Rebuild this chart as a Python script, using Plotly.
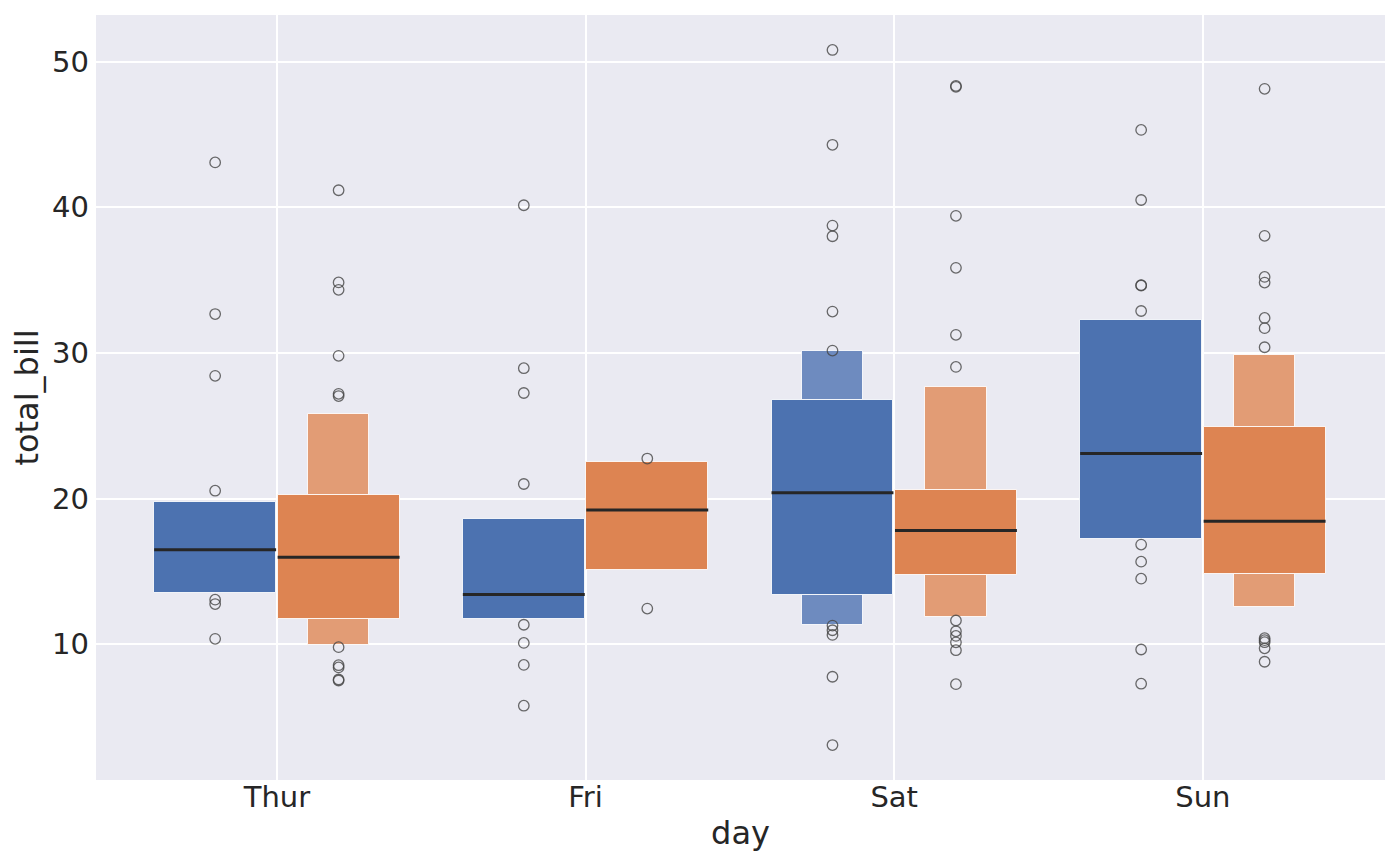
import plotly.graph_objects as go

# ---- data ----
days = ["Thur", "Fri", "Sat", "Sun"]

male_q1 = [13.55, 11.70, 13.41, 17.21]
male_q3 = [19.78, 18.60, 26.75, 32.29]
male_median = [16.48, 13.42, 20.40, 23.10]
male_outer_low = [None, None, 11.34, None]
male_outer_high = [None, None, 30.10, None]

female_q1 = [11.74, 15.11, 14.75, 14.80]
female_q3 = [20.24, 22.51, 20.62, 24.94]
female_median = [15.97, 19.21, 17.81, 18.44]
female_outer_low = [9.98, None, 11.85, 12.57]
female_outer_high = [25.84, None, 27.67, 29.86]

male_outliers = [
    [43.08, 32.67, 28.43, 20.54, 13.06, 12.76, 10.37],
    [40.14, 28.95, 27.25, 21.00, 11.34, 10.09, 8.58, 5.78],
    [50.80, 44.29, 38.74, 38.01, 32.84, 30.16, 11.28, 10.96, 10.64, 7.77, 3.08],
    [45.31, 40.50, 34.63, 34.65, 32.88, 16.84, 15.67, 14.50, 9.64, 7.29],
]
female_outliers = [
    [41.17, 34.84, 34.33, 29.80, 27.19, 27.04, 9.80, 8.56, 8.41, 7.58, 7.51],
    [22.75, 12.45],
    [48.33, 48.27, 39.41, 35.84, 31.24, 29.04, 11.63, 10.89, 10.57, 10.13, 9.59, 7.26],
    [48.13, 38.04, 35.22, 34.83, 32.40, 31.70, 30.39, 10.42, 10.28, 10.14, 9.72, 8.80],
]

# ---- styles ----
BLUE, BLUE_L = "#4c72b0", "#6e8bbf"
ORANGE, ORANGE_L = "#dd8452", "#e29c75"
BOX_W = 0.395
INNER_W = 0.2
OFFSET = 0.2

fig = go.Figure()


def add_group(q1, q3, med, olo, ohi, outs, dx, col, col_l, name):
    xs, bases, heights, widths, colors = [], [], [], [], []
    for i in range(len(days)):
        c = i + dx
        if olo[i] is not None:
            xs.append(c); bases.append(olo[i]); heights.append(q1[i] - olo[i])
            widths.append(INNER_W); colors.append(col_l)
        if ohi[i] is not None:
            xs.append(c); bases.append(q3[i]); heights.append(ohi[i] - q3[i])
            widths.append(INNER_W); colors.append(col_l)
        xs.append(c); bases.append(q1[i]); heights.append(q3[i] - q1[i])
        widths.append(BOX_W); colors.append(col)
    fig.add_trace(go.Bar(
        x=xs, y=heights, base=bases, width=widths,
        marker=dict(color=colors, line=dict(color="rgba(255,255,255,0.85)", width=1)),
        name=name, showlegend=False, hoverinfo="skip",
    ))
    mx, my = [], []
    for i in range(len(days)):
        c = i + dx
        mx += [c - BOX_W / 2, c + BOX_W / 2, None]
        my += [med[i], med[i], None]
    fig.add_trace(go.Scatter(x=mx, y=my, mode="lines",
                             line=dict(color="#262626", width=3),
                             showlegend=False, hoverinfo="skip"))
    ox, oy = [], []
    for i in range(len(days)):
        for v in outs[i]:
            ox.append(i + dx); oy.append(v)
    fig.add_trace(go.Scatter(
        x=ox, y=oy, mode="markers",
        marker=dict(symbol="circle", size=10.5, color="rgba(0,0,0,0)",
                    line=dict(color="rgba(70,70,70,0.8)", width=1.3)),
        showlegend=False, hoverinfo="skip"))


add_group(male_q1, male_q3, male_median, male_outer_low, male_outer_high,
          male_outliers, -OFFSET, BLUE, BLUE_L, "Male")
add_group(female_q1, female_q3, female_median, female_outer_low, female_outer_high,
          female_outliers, OFFSET, ORANGE, ORANGE_L, "Female")

# page body has an 8px margin; compensate so the plot area lands at 96..1385 x 15..780
fig.update_layout(
    width=1400, height=866,
    margin=dict(l=88, r=23, t=7, b=94),
    paper_bgcolor="white", plot_bgcolor="#eaeaf2",
    barmode="overlay", bargap=0,
    font=dict(family="DejaVu Sans", color="#262626", size=29),
    showlegend=False,
)
fig.update_xaxes(
    range=[-0.586, 3.59], tickmode="array", tickvals=list(range(len(days))),
    ticktext=days, showgrid=True, gridcolor="white", gridwidth=1.8,
    zeroline=False, showline=False, ticks="", ticklabelstandoff=-3,
    tickfont=dict(size=29, color="#262626"),
    title=dict(text="day", font=dict(size=32, color="#262626"), standoff=8),
)
fig.update_yaxes(
    range=[0.68, 53.2], tickmode="array", tickvals=[10, 20, 30, 40, 50],
    showgrid=True, gridcolor="white", gridwidth=1.8,
    zeroline=False, showline=False, ticks="", ticklabelstandoff=6,
    tickfont=dict(size=29, color="#262626"),
    title=dict(text="total_bill", font=dict(size=32, color="#262626"), standoff=10),
)

fig.write_html("out.html")
